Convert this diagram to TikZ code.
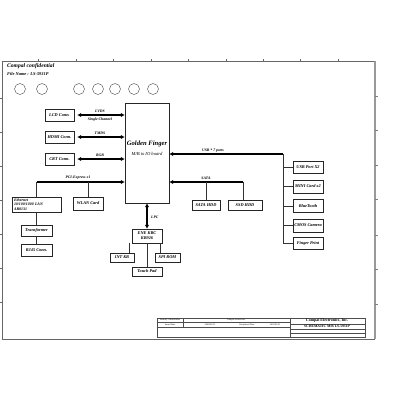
\documentclass[tikz,border=0pt]{standalone}
\usepackage{fontspec}
\setmainfont{Liberation Serif}
\usetikzlibrary{arrows.meta}
\begin{document}
\begin{tikzpicture}[x=1pt,y=-1pt,
  blk/.style={draw=black!85, line width=0.4pt, inner sep=0pt, align=center,
    font=\bfseries\itshape\fontsize{4.3}{5}\selectfont},
  lbl/.style={inner sep=0pt, font=\bfseries\itshape\fontsize{3.8}{4.5}\selectfont},
  bus/.style={line width=1.3pt, black},
  tip/.style={-{Latex[length=4pt,width=4.4pt]}},
  tips/.style={{Latex[length=4pt,width=4.4pt]}-{Latex[length=4pt,width=4.4pt]}},
  wire/.style={line width=0.4pt, black!80},
  frame/.style={line width=0.6pt, black!60},
  cir/.style={draw=black!80, line width=0.35pt, circle, minimum size=11pt, inner sep=0pt},
  tb/.style={line width=0.3pt, black!70},
  tt/.style={inner sep=0pt, font=\fontsize{2.2}{2.6}\selectfont}
]
\useasboundingbox (0,0) rectangle (400,400);
\fill[white] (0,0) rectangle (400,400);

% frame
\draw[frame] (2,339) -- (2,61) -- (375,61);
\draw[frame] (2,339) -- (375,339);
\draw[line width=1.5pt, black!40] (375,61) -- (375,339);
\foreach \t in {38,76,113,151,188,226,263,300,338} \draw[frame] (\t,61) -- (\t,59);
\foreach \t in {98,132,166,200,234,268,302} \draw[frame] (2,\t) -- (0,\t);
\foreach \t in {96,130,165,199,235,269,304} \draw[line width=0.6pt, black!50] (375,\t) -- (378,\t);

% header
\node[anchor=west, inner sep=0pt, font=\bfseries\itshape\fontsize{5.6}{6}\selectfont] (hdr) at (7,66) {Compal confidential};
\node[anchor=west, inner sep=0pt, font=\bfseries\itshape\fontsize{4.4}{5}\selectfont] (fname) at (7,74) {File Name : LS-5931P};

% small circles
\foreach \n/\cx in {c1/20,c2/42,c3/79,c4/98,c5/115,c6/134,c7/153}
  \node[cir] (\n) at (\cx,89) {};

% central
\node[blk, minimum width=44, minimum height=100] (gf) at (147,153) {};
\node[inner sep=0pt, font=\bfseries\itshape\fontsize{6.6}{7}\selectfont] (gft) at (147,144) {Golden Finger};
\node[inner sep=0pt, font=\itshape\fontsize{4.6}{5}\selectfont] (gfs) at (147,154) {M/B to IO board};

% left display boxes
\node[blk, minimum width=29, minimum height=12] (lcd) at (59.5,115) {LCD Conn.};
\node[blk, minimum width=29, minimum height=12] (hdmi) at (59.5,137) {HDMI Conn.};
\node[blk, minimum width=29, minimum height=12] (crt) at (59.5,159) {CRT Conn.};

\draw[bus,tips,shorten <=3pt] (lcd.east) -- (lcd.east -| gf.west);
\draw[bus,tips,shorten <=3pt] (hdmi.east) -- (hdmi.east -| gf.west);
\draw[bus,tips,shorten <=3pt] (crt.east) -- (crt.east -| gf.west);
\node[lbl] (lvds) at (100,111) {LVDS};
\node[lbl] (sgl) at (100,120) {Single Channel};
\node[lbl] (tmds) at (100,133) {TMDS};
\node[lbl] (rgb) at (100,155) {RGB};

% PCI-E
\coordinate (pcij) at (36.5,182);
\draw[bus,tip] (pcij) -- (pcij -| gf.west);
\node[lbl] (pcil) at (78,178) {PCI-Express x1};
\node[blk, minimum width=49, minimum height=15, font=\bfseries\itshape\fontsize{3.9}{4.6}\selectfont, align=left, text width=45pt] (eth) at (36.5,204.5) {Ethernet\\10/100/1000 LAN\\AR8131};
\node[blk, minimum width=30, minimum height=13] (wlan) at (88,203.5) {WLAN Card};
\node[blk, minimum width=31, minimum height=11] (trf) at (36.5,230.5) {Transformer};
\node[blk, minimum width=31, minimum height=12] (rj) at (36.5,250) {RJ45 Conn.};
\draw[wire] (pcij) -- (eth.north);
\draw[wire] (pcij -| wlan.north) -- (wlan.north);
\draw[wire] (eth.south) -- (trf.north);
\draw[wire] (trf.south) -- (rj.north);

% USB
\coordinate (usbj) at (283,154);
\draw[bus,tip] (usbj) -- (usbj -| gf.east);
\node[lbl] (usbl) at (213,151) {USB * 7 ports};
\node[blk, minimum width=30, minimum height=12] (usb) at (308,167) {USB Port X2};
\node[blk, minimum width=30, minimum height=13] (mini) at (308,186.5) {MINI Card x2};
\node[blk, minimum width=30, minimum height=13] (bt) at (308,206) {BlueTooth};
\node[blk, minimum width=30, minimum height=13] (cmos) at (308,225.5) {CMOS Camera};
\node[blk, minimum width=30, minimum height=12] (fp) at (308,243) {Finger Print};
\draw[wire] (usbj) |- (fp.west);
\foreach \b in {usb,mini,bt,cmos} \draw[wire] (usbj |- \b.west) -- (\b.west);

% SATA
\coordinate (sataj) at (243,182);
\draw[bus,tip] (sataj) -- (sataj -| gf.east);
\node[lbl] (satal) at (206,178) {SATA};
\node[blk, minimum width=28, minimum height=10] (shdd) at (206,205) {SATA HDD};
\node[blk, minimum width=34, minimum height=10] (ssd) at (245,205) {SSD HDD};
\draw[wire] (sataj -| shdd.north) -- (shdd.north);
\draw[wire] (sataj) -- (sataj |- ssd.north);

% LPC / KBC
\node[blk, minimum width=30, minimum height=14] (kbc) at (147,236) {ENE KBC\\KB926};
\draw[bus,tips] (gf.south) -- (kbc.north);
\node[lbl, anchor=west] (lpcl) at (151,217) {LPC};
\node[blk, minimum width=24, minimum height=9] (intkb) at (122,257.5) {INT KB};
\node[blk, minimum width=25, minimum height=9] (spi) at (167.5,257.5) {SPI ROM};
\node[blk, minimum width=30, minimum height=9] (tp) at (147,271.5) {Touch Pad};
\draw[wire] (intkb.north -| 129,0) -- (kbc.south -| 129,0);
\draw[wire] (kbc.south) -- (tp.north);
\draw[wire] (spi.north -| 160,0) -- (kbc.south -| 160,0);

% title block
\draw[tb] (157,318) rectangle (365,337);
\draw[tb] (157,327) -- (290,327);
\draw[tb] (157,322.5) -- (290,322.5);
\draw[tb] (183,318) -- (183,327);
\draw[tb] (290,318) -- (290,337);
\draw[tb] (290,324) -- (365,324);
\draw[tb] (290,329) -- (365,329);
\draw[tb] (290,333) -- (365,333);
\node[tt] (sc) at (170,320.2) {Security Classification};
\node[tt] (isd) at (170,324.8) {Issued Date};
\node[tt] (csd) at (236,320.2) {Compal Secret Data};
\node[tt] (d1) at (210,324.8) {2008/01/25};
\node[tt] (dd) at (247,324.8) {Deciphered Date};
\node[tt] (d2) at (275,324.8) {2010/01/25};
\node[inner sep=0pt, font=\bfseries\fontsize{4}{4.5}\selectfont] (ce) at (327,321) {Compal Electronics, Inc.};
\node[inner sep=0pt, font=\bfseries\fontsize{3.6}{4}\selectfont] (sch) at (327,326.5) {SCHEMATIC M/B LS-5931P};
\end{tikzpicture}
\end{document}
